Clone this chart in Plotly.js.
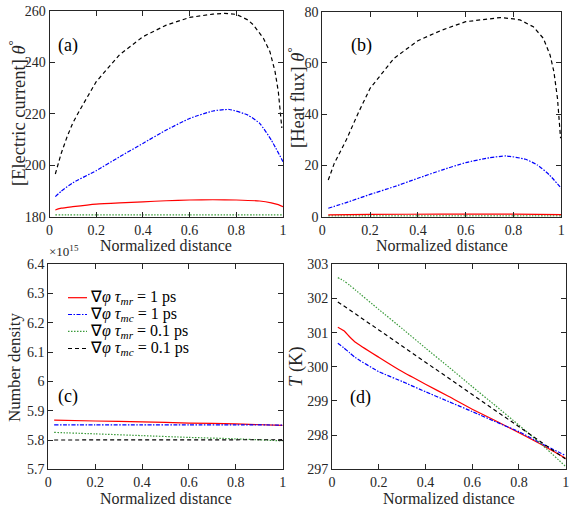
<!DOCTYPE html>
<html>
<head>
<meta charset="utf-8">
<script src="https://cdn.plot.ly/plotly-3.0.1.min.js"></script>
<style>
  html, body { margin: 0; padding: 0; background: #ffffff; }
  #chart { width: 573px; height: 509px; }
</style>
</head>
<body>
<div id="chart"></div>
<script>
// ---------- Panel (a): electric current angle ----------
const xA_red   = [0.025, 0.05, 0.1, 0.2, 0.3, 0.4, 0.5, 0.6, 0.7, 0.8, 0.9, 0.95, 0.98, 1.0];
const yA_red   = [182.6, 183.3, 183.9, 184.9, 185.4, 185.8, 186.2, 186.5, 186.6, 186.5, 186.1, 185.4, 184.7, 183.9];
const xA_blue  = [0.025, 0.05, 0.1, 0.2, 0.3, 0.4, 0.5, 0.6, 0.7, 0.77, 0.85, 0.9, 0.95, 1.0];
const yA_blue  = [187.8, 189.9, 193.2, 197.9, 203.3, 208.5, 213.7, 218.2, 221.1, 221.7, 219.5, 216.3, 209.8, 201.4];
const xA_green = [0.025, 0.2, 0.4, 0.6, 0.8, 1.0];
const yA_green = [180.7, 180.7, 180.7, 180.7, 180.7, 180.7];
const xA_black = [0.025, 0.05, 0.075, 0.1, 0.13, 0.2, 0.3, 0.4, 0.5, 0.6, 0.7, 0.75, 0.8, 0.85, 0.873, 0.9, 0.916, 0.944, 0.966, 0.98, 0.99, 0.995];
const yA_black = [196.6, 204.6, 211.0, 216.5, 221.5, 232.5, 243.0, 250.0, 254.5, 257.5, 258.8, 259.1, 258.7, 256.5, 254.6, 251.5, 249.4, 244.2, 236.4, 228.6, 220.8, 214.5];

// ---------- Panel (b): heat flux angle ----------
const xB_red   = [0.025, 0.2, 0.5, 0.8, 1.0];
const yB_red   = [0.7, 0.9, 1.0, 1.0, 0.8];
const xB_blue  = [0.025, 0.1, 0.2, 0.3, 0.4, 0.5, 0.6, 0.7, 0.77, 0.85, 0.9, 0.95, 1.0];
const yB_blue  = [3.3, 5.5, 8.7, 11.7, 15.0, 18.2, 21.1, 23.0, 23.7, 22.4, 20.2, 16.3, 11.1];
const xB_green = [0.025, 0.2, 0.4, 0.6, 0.8, 1.0];
const yB_green = [0.3, 0.3, 0.3, 0.3, 0.3, 0.3];
const xB_black = [0.025, 0.05, 0.1, 0.15, 0.2, 0.3, 0.4, 0.5, 0.6, 0.7, 0.744, 0.8, 0.827, 0.883, 0.925, 0.953, 0.969, 0.984, 0.992, 0.997];
const yB_black = [14.3, 20.8, 29.9, 40.4, 50.1, 61.8, 68.7, 72.8, 76.1, 77.4, 77.7, 77.2, 76.8, 74.1, 69.6, 63.1, 56.6, 46.2, 37.1, 30.6];

// ---------- Panel (c): number density (units of 1e15) ----------
const xC       = [0.025, 0.2, 0.4, 0.6, 0.8, 1.0];
const yC_red   = [5.868, 5.865, 5.862, 5.858, 5.855, 5.850];
const yC_blue  = [5.852, 5.852, 5.852, 5.852, 5.852, 5.851];
const yC_green = [5.826, 5.821, 5.815, 5.809, 5.804, 5.797];
const yC_black = [5.800, 5.800, 5.801, 5.802, 5.802, 5.801];

// ---------- Panel (d): temperature ----------
const xD       = [0.025, 0.05, 0.075, 0.1, 0.2, 0.3, 0.4, 0.5, 0.6, 0.7, 0.8, 0.9, 1.0];
const yD_red   = [301.16, 301.06, 300.88, 300.72, 300.28, 299.86, 299.49, 299.13, 298.76, 298.42, 298.07, 297.71, 297.32];
const yD_blue  = [300.69, 300.56, 300.41, 300.27, 299.86, 299.57, 299.27, 298.98, 298.69, 298.39, 298.10, 297.74, 297.40];
const yD_green = [302.61, 302.52, 302.39, 302.25, 301.68, 301.12, 300.55, 299.99, 299.42, 298.86, 298.29, 297.71, 297.08];
const yD_black = [301.90, 301.79, 301.67, 301.55, 301.08, 300.61, 300.14, 299.66, 299.19, 298.72, 298.24, 297.77, 297.30];

// ---------- Tick labels ----------
const xTickVals = [0, 0.2, 0.4, 0.6, 0.8, 1];
const xTickText = ["0", "0.2", "0.4", "0.6", "0.8", "1"];
const yA_ticks  = [180, 200, 220, 240, 260];
const yB_ticks  = [0, 20, 40, 60, 80];
const yC_ticks  = [5.7, 5.8, 5.9, 6.0, 6.1, 6.2, 6.3, 6.4];
const yC_text   = ["5.7", "5.8", "5.9", "6", "6.1", "6.2", "6.3", "6.4"];
const yD_ticks  = [297, 298, 299, 300, 301, 302, 303];

const seriesNames = [
  "∇<i>φ</i> <i>τ</i><sub><i>mr</i></sub> = 1 ps",
  "∇<i>φ</i> <i>τ</i><sub><i>mc</i></sub> = 1 ps",
  "∇<i>φ</i> <i>τ</i><sub><i>mr</i></sub> = 0.1 ps",
  "∇<i>φ</i> <i>τ</i><sub><i>mc</i></sub> = 0.1 ps"
];

const styles = [
  { color: "#ff0000", width: 1.2, dash: "solid" },
  { color: "#0000ff", width: 1.2, dash: "4px,1.5px,1.5px,1.5px" },
  { color: "#3a9a3a", width: 1.2, dash: "1.5px,1.5px" },
  { color: "#000000", width: 1.2, dash: "4px,3px" }
];

// Sparse, gently curving series are drawn smoothed; the densely sampled
// black curves keep straight segments so the steep right-hand drop stays put.
function tr(x, y, k, xa, ya) {
  const shape = k === 3 ? { shape: "linear" } : { shape: "spline", smoothing: 0.5 };
  return {
    x: x, y: y, type: "scatter", mode: "lines",
    name: seriesNames[k], showlegend: false,
    line: Object.assign(shape, styles[k]),
    xaxis: xa, yaxis: ya, hoverinfo: "skip"
  };
}

const data = [
  // (a)
  tr(xA_green, yA_green, 2, "x", "y"),
  tr(xA_red, yA_red, 0, "x", "y"),
  tr(xA_blue, yA_blue, 1, "x", "y"),
  tr(xA_black, yA_black, 3, "x", "y"),
  // (b)
  tr(xB_green, yB_green, 2, "x2", "y2"),
  tr(xB_red, yB_red, 0, "x2", "y2"),
  tr(xB_blue, yB_blue, 1, "x2", "y2"),
  tr(xB_black, yB_black, 3, "x2", "y2"),
  // (c)
  tr(xC, yC_red, 0, "x3", "y3"),
  tr(xC, yC_blue, 1, "x3", "y3"),
  tr(xC, yC_green, 2, "x3", "y3"),
  tr(xC, yC_black, 3, "x3", "y3"),
  // (d)
  tr(xD, yD_red, 0, "x4", "y4"),
  tr(xD, yD_blue, 1, "x4", "y4"),
  tr(xD, yD_green, 2, "x4", "y4"),
  tr(xD, yD_black, 3, "x4", "y4")
];

const serif = "Liberation Serif";
const axisColor = "#262626";
const tickFont = { family: serif, size: 14, color: axisColor };

function xAxis(domain, anchor) {
  return {
    domain: domain, anchor: anchor, range: [0, 1],
    tickvals: xTickVals, ticktext: xTickText,
    showline: true, mirror: "ticks", linecolor: axisColor, linewidth: 1,
    ticks: "inside", ticklen: 5, tickcolor: axisColor, tickwidth: 1,
    showgrid: false, zeroline: false, tickfont: tickFont, fixedrange: true
  };
}
function yAxis(domain, anchor, range, vals, text) {
  const a = {
    domain: domain, anchor: anchor, range: range, tickvals: vals,
    showline: true, mirror: "ticks", linecolor: axisColor, linewidth: 1,
    ticks: "inside", ticklen: 5, tickcolor: axisColor, tickwidth: 1,
    showgrid: false, zeroline: false, tickfont: tickFont, fixedrange: true
  };
  if (text) a.ticktext = text;
  return a;
}

const W = 573, H = 509;
const px = v => v / W;
const py = v => 1 - v / H;

const labelFont  = { family: serif, size: 16, color: axisColor };
const mathFont   = { family: serif, size: 18.5, color: axisColor };
const panelFont  = { family: serif, size: 18, color: "#000000" };
const legendFont = { family: serif, size: 16, color: "#000000" };

function note(x, y, text, font, extra) {
  return Object.assign({
    xref: "paper", yref: "paper", x: px(x), y: py(y), text: text,
    showarrow: false, font: font, xanchor: "center", yanchor: "middle"
  }, extra || {});
}

// Legend of panel (c): a short line sample and a label per series
const legendRows = [297.7, 314.5, 331.3, 348.5];
const legendShapes = legendRows.map((y, k) => ({
  type: "line", xref: "paper", yref: "paper",
  x0: px(68), x1: px(87), y0: py(y), y1: py(y),
  line: { color: styles[k].color, width: styles[k].width, dash: styles[k].dash }
}));
const legendNotes = legendRows.map((y, k) =>
  note(88, y, seriesNames[k], legendFont, { xanchor: "left" }));

const layout = {
  width: W, height: H,
  margin: { l: 0, r: 0, t: 0, b: 0 },
  paper_bgcolor: "#ffffff", plot_bgcolor: "#ffffff",
  font: { family: serif, color: axisColor },
  showlegend: false,
  xaxis:  xAxis([px(49.5), px(283)], "y"),
  yaxis:  yAxis([py(216.7), py(11)], "x", [180, 260], yA_ticks),
  xaxis2: xAxis([px(322.3), px(561.3)], "y2"),
  yaxis2: yAxis([py(216.7), py(11.7)], "x2", [0, 80], yB_ticks),
  xaxis3: xAxis([px(48.3), px(282.7)], "y3"),
  yaxis3: yAxis([py(469.3), py(264.3)], "x3", [5.7, 6.4], yC_ticks, yC_text),
  xaxis4: xAxis([px(332), px(565.7)], "y4"),
  yaxis4: yAxis([py(469.3), py(264.3)], "x4", [297, 303], yD_ticks),
  shapes: legendShapes,
  annotations: [
    // x-axis titles
    note(166, 245, "Normalized distance", labelFont),
    note(442, 245, "Normalized distance", labelFont),
    note(166, 498, "Normalized distance", labelFont),
    note(449, 498, "Normalized distance", labelFont),
    // y-axis titles
    note(17, 113, "[Electric current] <i>θ</i><sup>°</sup>", mathFont, { textangle: -90 }),
    note(296, 98, "[Heat flux] <i>θ</i><sup>°</sup>", mathFont, { textangle: -90 }),
    note(14, 367, "Number density", { family: serif, size: 17, color: axisColor }, { textangle: -90 }),
    note(296, 367, "<i>T</i> (K)", mathFont, { textangle: -90 }),
    // exponent of panel (c)
    note(64, 251, "×10<sup>15</sup>", { family: serif, size: 13, color: axisColor }),
    // panel letters
    note(68, 45, "(a)", panelFont),
    note(361, 45, "(b)", panelFont),
    note(68, 396, "(c)", panelFont),
    note(360, 397, "(d)", panelFont)
  ].concat(legendNotes)
};

Plotly.newPlot("chart", data, layout, { staticPlot: true, displayModeBar: false });
</script>
</body>
</html>
